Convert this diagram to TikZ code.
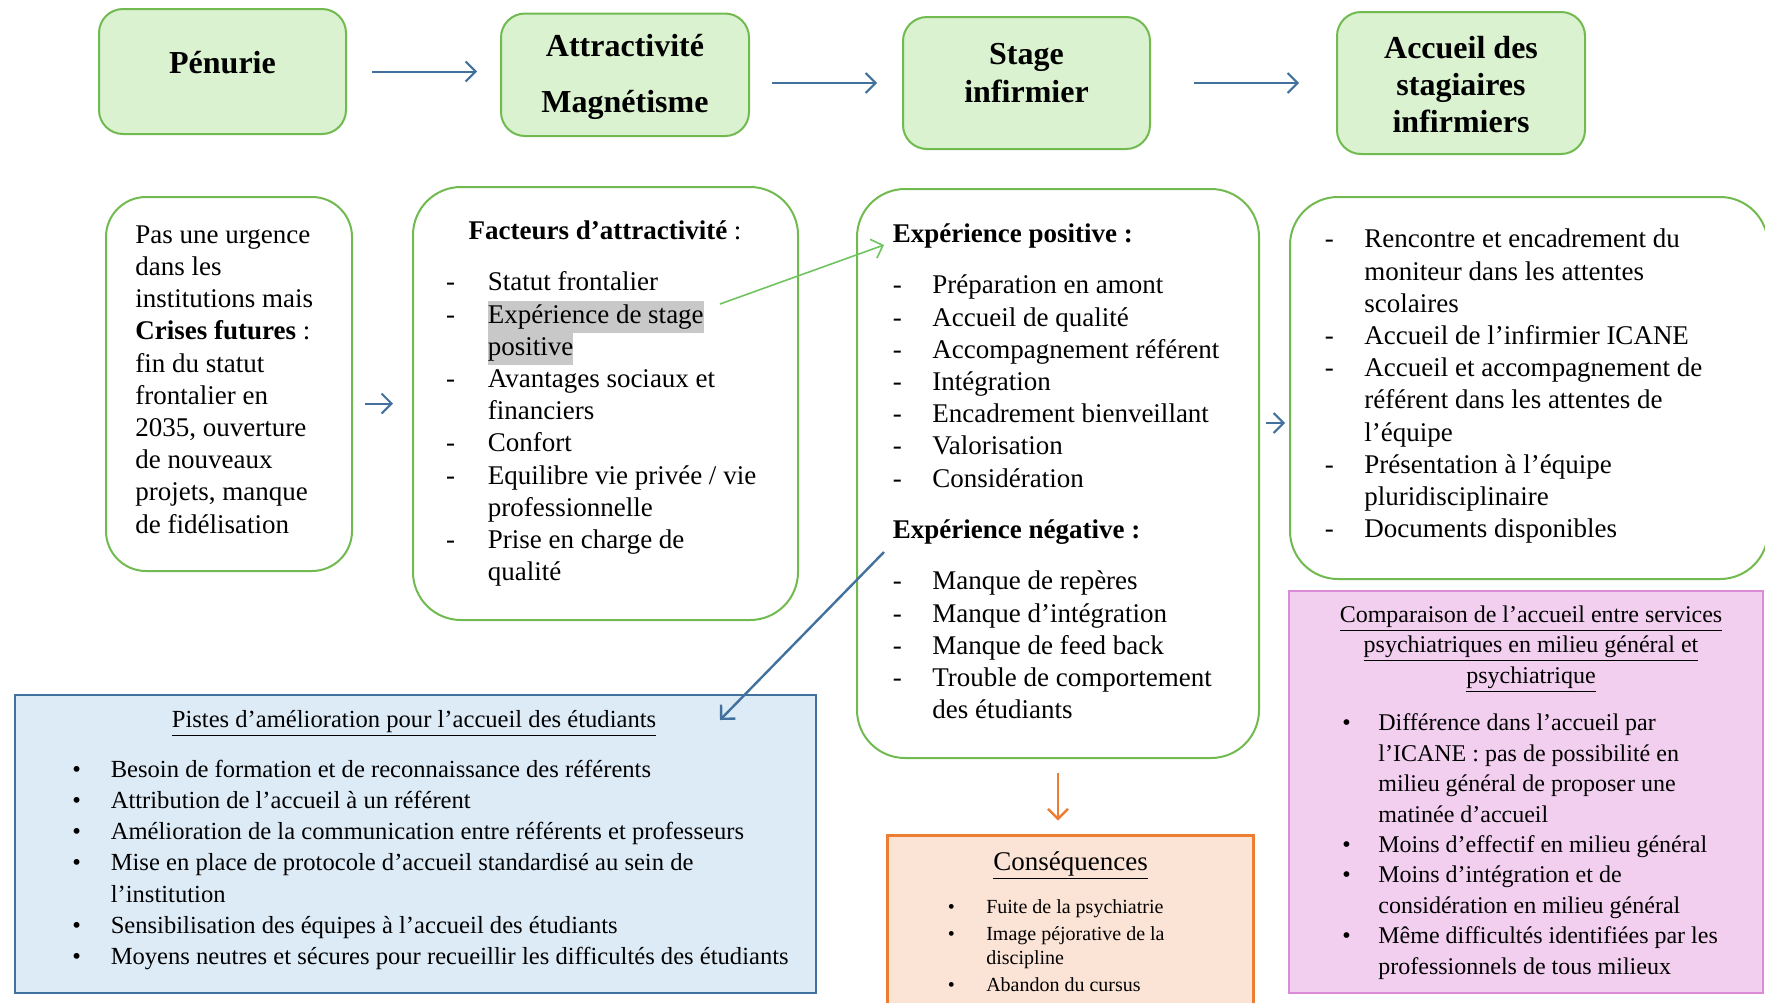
\documentclass[tikz,border=0pt]{standalone}
\usepackage{fontspec}
\setmainfont{Liberation Serif}
\usetikzlibrary{arrows.meta}

\definecolor{vertfond}{RGB}{218,242,208}
\definecolor{vertbord}{RGB}{112,186,80}
\definecolor{bleufleche}{RGB}{65,113,156}
\definecolor{vertfleche}{RGB}{112,196,96}
\definecolor{bleufond}{RGB}{221,235,247}
\definecolor{orangebord}{RGB}{237,125,49}
\definecolor{orangefond}{RGB}{251,227,214}
\definecolor{rosebord}{RGB}{218,140,216}
\definecolor{rosefond}{RGB}{242,206,239}
\definecolor{surligne}{RGB}{200,200,200}
\newcommand{\surl}[1]{{\setlength{\fboxsep}{0pt}\colorbox{surligne}{\strut #1}}}

\tikzstyle{etape} = [draw=vertbord, fill=vertfond, line width=1pt, rounded corners=12pt, inner sep=0pt]
\tikzstyle{cadre} = [draw=vertbord, line width=1pt, rounded corners=24pt, inner sep=0pt]
\tikzstyle{encart} = [line width=1pt, inner sep=0pt]
\tikzstyle{titre} = [font=\bfseries\fontsize{16}{18.7}\selectfont, align=center, inner sep=0pt]
\tikzstyle{corps} = [font=\fontsize{13.5}{16.1}\selectfont, inner sep=0pt, anchor=north west]
\tikzstyle{fleche} = [draw=bleufleche, line width=1pt, -{Straight Barb[length=5pt,width=10pt]}]

\begin{document}
\begin{tikzpicture}[x=0.5pt, y=-0.5pt]
\clip (0,0) rectangle (1765,1002);
%begin etapes du haut
\node[etape, minimum width=123.5pt, minimum height=62.5pt] (pen) at (222.5,71.5) {};
\node[etape, minimum width=124pt, minimum height=61.25pt] (attr) at (625,74.75) {};
\node[etape, minimum width=123.5pt, minimum height=66pt] (stage) at (1026.5,83) {};
\node[etape, minimum width=124pt, minimum height=71pt] (accu) at (1461,83) {};
\node[titre] (penT) at (222.5,63) {Pénurie};
\node[titre, font=\bfseries\fontsize{16}{28}\selectfont] (attrT) at (625,76.5) {Attractivité\\Magnétisme};
\node[titre, font=\bfseries\fontsize{16}{19}\selectfont] (stageT) at (1026.5,73) {Stage\\infirmier};
\node[titre] (accuT) at (1461,84.5) {Accueil des\\stagiaires\\infirmiers};
\draw[fleche, shorten <=12.5pt, shorten >=11.5pt] (pen.east) -- (pen.east -| attr.west);
\draw[fleche, shorten <=11pt, shorten >=12.5pt] (stage.west -| attr.east) -- (stage.west);
\draw[fleche, shorten <=21.5pt, shorten >=18.5pt] (stage.east) -- (stage.east -| accu.west);
%end etapes du haut
%begin cadres du milieu
\node[cadre, rounded corners=20pt, minimum width=123pt, minimum height=187pt] (b1) at (229,384) {};
\node[cadre, minimum width=192.5pt, minimum height=216.5pt] (b2) at (605.5,403.5) {};
\node[cadre, minimum width=201pt, minimum height=284.5pt] (b3) at (1058,473.5) {};
\node[cadre, minimum width=239pt, minimum height=191pt] (b4) at (1529,388) {};
%cadre1
\node[corps] (b1t) at (135,220.4) {\begin{tabular}{@{}l@{}}
Pas une urgence\\
dans les\\
institutions mais\\
\textbf{Crises futures} :\\
fin du statut\\
frontalier en\\
2035, ouverture\\
de nouveaux\\
projets, manque\\
de fidélisation
\end{tabular}};
%cadre2
\node[corps] (b2t) at (445.8,216.5) {\begin{tabular}{@{}p{20.8pt}@{}l@{}}
\multicolumn{2}{@{}l@{}}{\hspace{11.2pt}\textbf{Facteurs d’attractivité} :}\\[9.6pt]
- & Statut frontalier\\
- & \surl{Expérience de stage}\\
  & \surl{positive}\\
- & Avantages sociaux et\\
  & financiers\\
- & Confort\\
- & Equilibre vie privée / vie\\
  & professionnelle\\
- & Prise en charge de\\
  & qualité
\end{tabular}};
%cadre3
\node[corps] (b3t) at (892.5,219.5) {\begin{tabular}{@{}p{19.7pt}@{}l@{}}
\multicolumn{2}{@{}l@{}}{\textbf{Expérience positive :}}\\[9.6pt]
- & Préparation en amont\\
- & Accueil de qualité\\
- & Accompagnement référent\\
- & Intégration\\
- & Encadrement bienveillant\\
- & Valorisation\\
- & Considération\\[9.6pt]
\multicolumn{2}{@{}l@{}}{\textbf{Expérience négative :}}\\[9.6pt]
- & Manque de repères\\
- & Manque d’intégration\\
- & Manque de feed back\\
- & Trouble de comportement\\
  & des étudiants
\end{tabular}};
%cadre4
\node[corps] (b4t) at (1324.5,225) {\begin{tabular}{@{}p{19.7pt}@{}l@{}}
- & Rencontre et encadrement du\\
  & moniteur dans les attentes\\
  & scolaires\\
- & Accueil de l’infirmier ICANE\\
- & Accueil et accompagnement de\\
  & référent dans les attentes de\\
  & l’équipe\\
- & Présentation à l’équipe\\
  & pluridisciplinaire\\
- & Documents disponibles
\end{tabular}};
\draw[fleche, shorten <=6pt, shorten >=9.5pt] (b2.west -| b1.east) -- (b2.west);
\coordinate (b3sortie) at (1259,423);
\draw[fleche, shorten <=3.5pt, shorten >=2pt] (b3sortie) -- (b3sortie -| b4.west);
%end cadres du milieu
%begin encarts du bas
\node[encart, draw=bleufleche, fill=bleufond, minimum width=400.5pt, minimum height=149pt] (pist) at (415.5,844) {};
\node[encart, draw=orangebord, fill=orangefond, line width=1.5pt, minimum width=183pt, minimum height=87.5pt] (cons) at (1070,922.5) {};
\node[encart, draw=rosebord, fill=rosefond, minimum width=237pt, minimum height=201pt] (rose) at (1526,792) {};
%pistes
\node[inner sep=0pt, font=\fontsize{12.3}{15.6}\selectfont] (pistT) at (414,723.5)
  {\underline{Pistes d’amélioration pour l’accueil des étudiants}};
\node[corps, font=\fontsize{12.3}{15.6}\selectfont] (pistL) at (72,755) {\begin{tabular}{@{}p{19.2pt}@{}l@{}}
\textbullet & Besoin de formation et de reconnaissance des référents\\
\textbullet & Attribution de l’accueil à un référent\\
\textbullet & Amélioration de la communication entre référents et professeurs\\
\textbullet & Mise en place de protocole d’accueil standardisé au sein de\\
            & l’institution\\
\textbullet & Sensibilisation des équipes à l’accueil des étudiants\\
\textbullet & Moyens neutres et sécures pour recueillir les difficultés des étudiants
\end{tabular}};
%consequences
\node[inner sep=0pt, font=\fontsize{13.5}{16.1}\selectfont] (consT) at (1070.5,865.5) {\underline{Conséquences}};
\node[corps, font=\fontsize{10}{12}\selectfont] (consL) at (947.5,896.4) {\begin{tabular}{@{}p{19.2pt}@{}l@{}}
\textbullet & Fuite de la psychiatrie\\[1.5pt]
\textbullet & Image péjorative de la\\
            & discipline\\[1.2pt]
\textbullet & Abandon du cursus
\end{tabular}};
%comparaison
\node[inner sep=0pt, align=center, font=\fontsize{12}{15.2}\selectfont] (roseT) at (1531,649)
  {\underline{Comparaison de l’accueil entre services}\\
   \underline{psychiatriques en milieu général et}\\
   \underline{psychiatrique}};
\node[corps, font=\fontsize{12}{15.2}\selectfont] (roseL) at (1342,709.2) {\begin{tabular}{@{}p{18pt}@{}l@{}}
\textbullet & Différence dans l’accueil par\\
            & l’ICANE : pas de possibilité en\\
            & milieu général de proposer une\\
            & matinée d’accueil\\
\textbullet & Moins d’effectif en milieu général\\
\textbullet & Moins d’intégration et de\\
            & considération en milieu général\\
\textbullet & Même difficultés identifiées par les\\
            & professionnels de tous milieux
\end{tabular}};
%end encarts du bas
%begin fleches croisees
\coordinate (surlfin) at (720,304);
\coordinate (b3entree) at (884,245);
\draw[fleche, draw=vertfleche, line width=0.8pt] (surlfin) -- (b3entree);
\coordinate (negdep) at (884,552);
\coordinate (pistentree) at (720,720);
\draw[fleche, line width=1.2pt] (negdep) -- (pistentree);
\draw[fleche, draw=orangebord, line width=1.2pt, shorten <=7pt, shorten >=6.5pt] (b3.south) -- (b3.south |- cons.north);
%end fleches croisees
\end{tikzpicture}
\end{document}
